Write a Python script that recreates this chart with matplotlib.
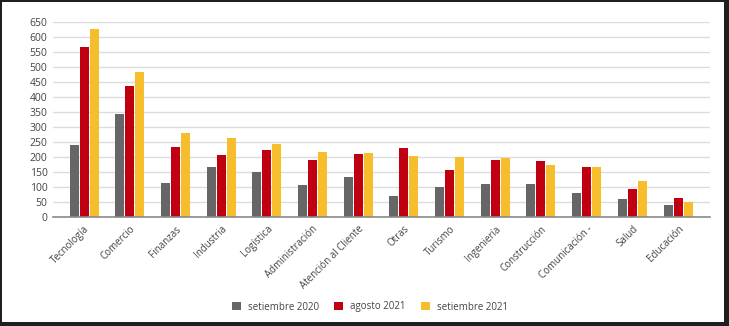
import numpy as np
import matplotlib
matplotlib.use("Agg")
import matplotlib.pyplot as plt
from matplotlib.patches import Rectangle

# --- data ---
categories = ["Tecnología", "Comercio", "Finanzas", "Industria", "Logística",
              "Administración", "Atención al Cliente", "Otras", "Turismo",
              "Ingeniería", "Construcción", "Comunicación -", "Salud", "Educación"]
sep_2020 = [238, 343, 111, 165, 150, 105, 131, 69, 99, 108, 109, 78, 59, 39]
ago_2021 = [566, 436, 234, 206, 222, 188, 209, 230, 156, 189, 185, 165, 92, 63]
sep_2021 = [626, 483, 278, 262, 242, 217, 213, 201, 198, 195, 174, 165, 120, 50]
series_names = ["setiembre 2020", "agosto 2021", "setiembre 2021"]
colors = ["#666666", "#c00010", "#f6bd2c"]

plt.rcParams['font.family'] = ['Open Sans', 'DejaVu Sans']

W, H = 729, 326
fig = plt.figure(figsize=(W / 100, H / 100), dpi=100)
fig.patch.set_facecolor("#1f1f1f")
# white card inside the dark frame
fig.patches.append(Rectangle((2 / W, 4 / H), (724 - 2) / W, (324 - 4) / H,
                             transform=fig.transFigure, facecolor="white",
                             edgecolor="none", zorder=-10))

ax = fig.add_axes([53 / W, (H - 216.7) / H, (710 - 53) / W, (216.7 - 22) / H])
ax.set_facecolor("none")

x = np.arange(len(categories))
bw = 0.197
step = 0.219
for i, (vals, name, c) in enumerate(zip([sep_2020, ago_2021, sep_2021], series_names, colors)):
    ax.bar(x + (i - 1) * step, vals, width=bw, color=c, label=name, zorder=3)

ax.set_xlim(-0.68, 13.70)
ax.set_ylim(0, 650)
ax.set_yticks(np.arange(0, 651, 50))
ax.yaxis.grid(True, color="#dcdcdc", linewidth=1.0, zorder=0)
ax.set_axisbelow(True)
for s in ["top", "right", "left"]:
    ax.spines[s].set_visible(False)
ax.spines["bottom"].set_color("#8a8a8a")
ax.spines["bottom"].set_linewidth(1.2)
ax.spines["bottom"].set_zorder(4)

ax.tick_params(axis="y", length=0, labelsize=7.5, labelcolor="#444444", pad=4)
ax.tick_params(axis="x", length=0, labelsize=7, labelcolor="#444444", pad=5)
ax.set_xticks(x)
ax.set_xticklabels(categories, rotation=45, ha="right", rotation_mode="anchor")

handles, labels = ax.get_legend_handles_labels()
fig.legend(handles, labels, loc="center", bbox_to_anchor=(370 / W, (H - 307) / H),
           ncol=3, frameon=False, fontsize=7, handlelength=0.9, handleheight=0.9,
           columnspacing=1.6, handletextpad=0.7, labelcolor="#444444")

fig.savefig("out.png", dpi=100, facecolor=fig.get_facecolor())
